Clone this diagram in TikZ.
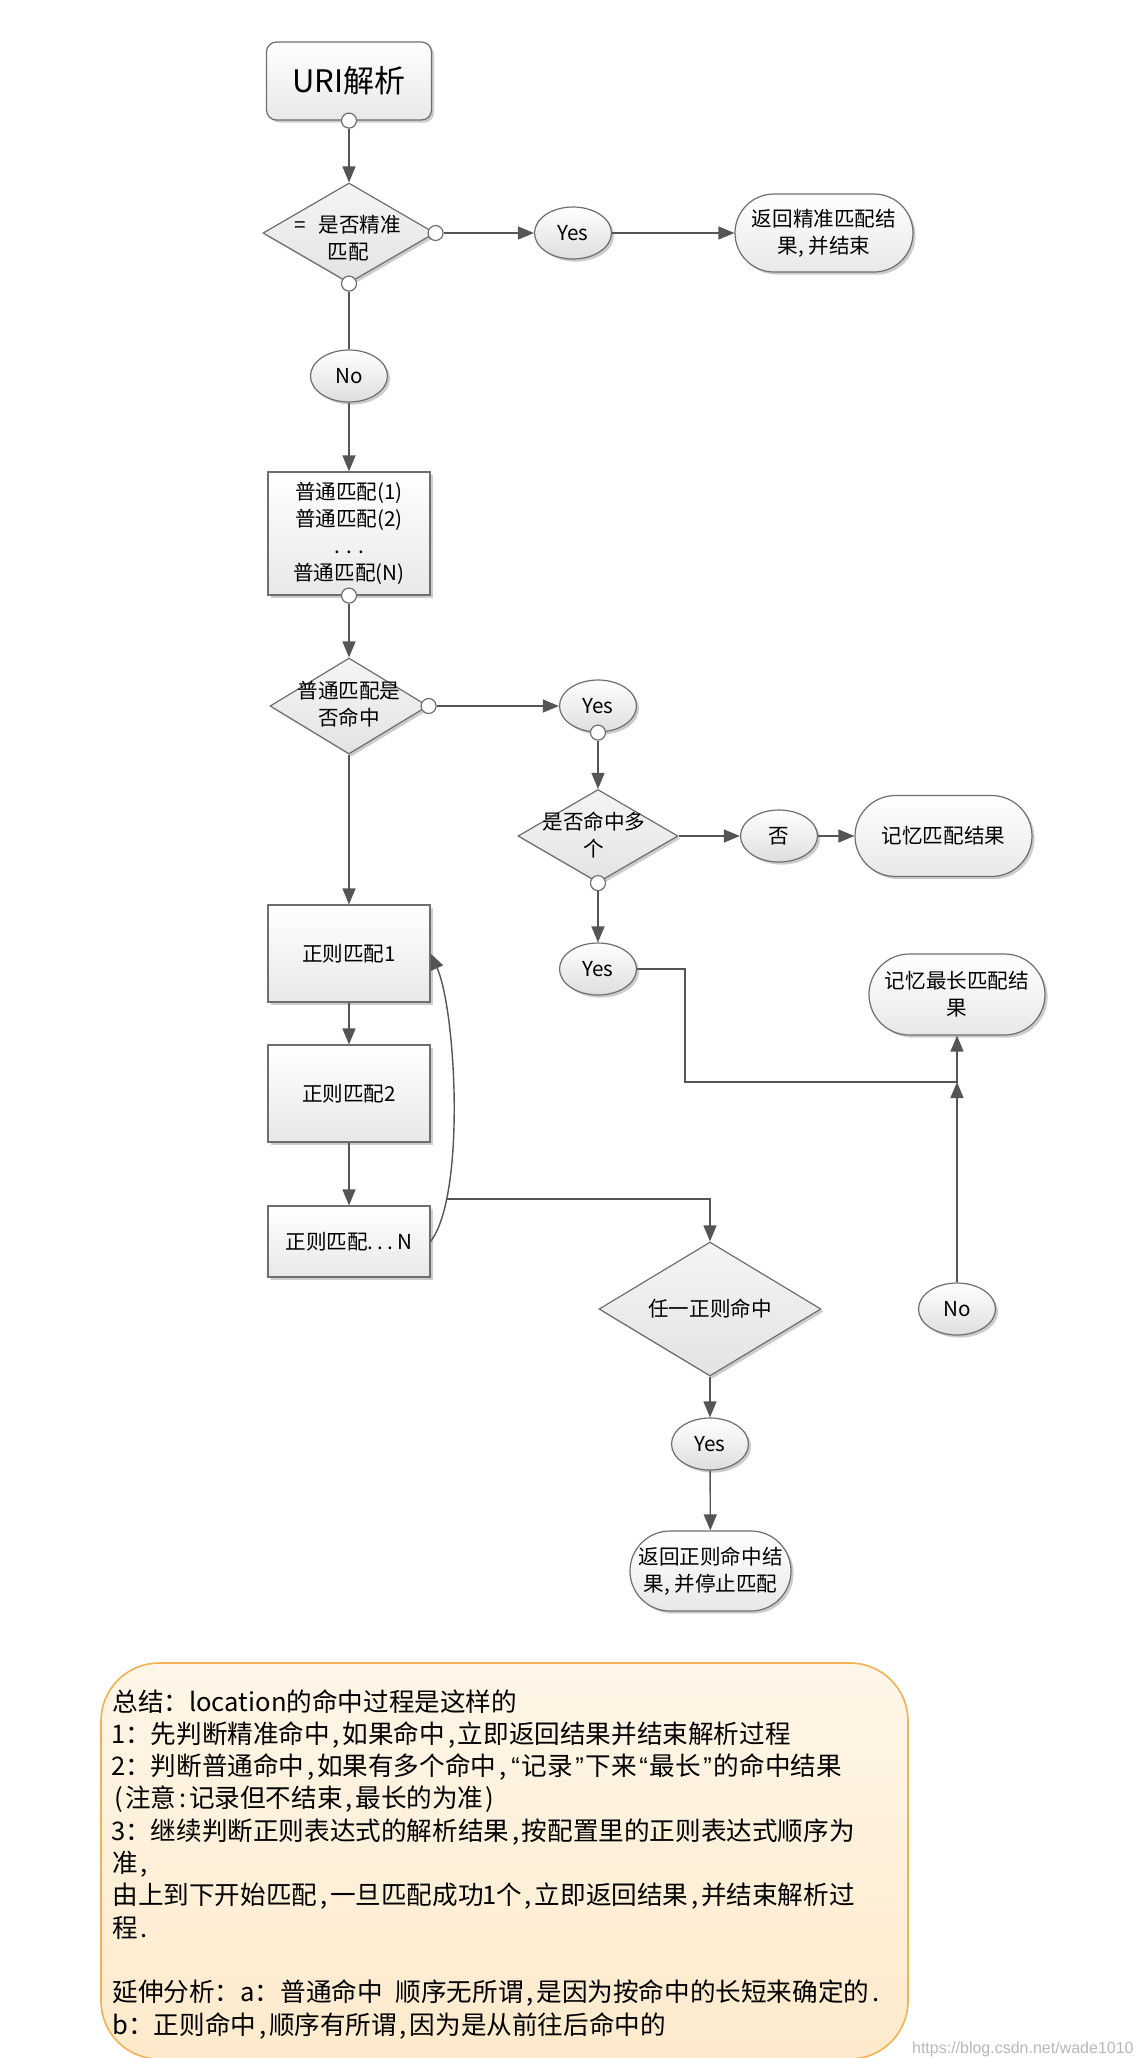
\documentclass[tikz,border=0pt]{standalone}
\usepackage{fontspec}
\setmainfont{Noto Sans CJK SC}
\newfontfamily\wmfont{Liberation Sans}
\usetikzlibrary{shapes.geometric,shadows,arrows.meta}
\newcommand{\hw}[1]{\makebox[0.5em][c]{#1}}
\newcommand{\hq}[1]{\makebox[0.5em][c]{\wmfont #1}}
\definecolor{lnc}{HTML}{555555}
\definecolor{bdc}{HTML}{6E6E6E}
\definecolor{sumtop}{HTML}{FFF6E8}
\definecolor{sumbot}{HTML}{FDEACB}
\definecolor{sumbd}{HTML}{F2B152}
\begin{document}
\begin{tikzpicture}[x=0.5pt,y=-0.5pt,
 every node/.style={align=center,font=\fontsize{10.3pt}{13.5pt}\selectfont},
 shad/.style={drop shadow={shadow xshift=1.3pt,shadow yshift=-1.3pt,fill=black,opacity=0.2}},
 procbox/.style={shad,rectangle,draw=bdc,line width=0.6pt,top color=white,bottom color=black!9,inner sep=0pt},
 termbox/.style={procbox,rounded corners=#1},
 decis/.style={shad,diamond,draw=bdc,line width=0.6pt,top color=black!4,bottom color=black!11,inner sep=0pt},
 oval/.style={shad,ellipse,draw=bdc,line width=0.6pt,top color=white,bottom color=black!13,inner sep=0pt,minimum width=38.5pt,minimum height=26pt},
 port/.style={circle,draw=bdc,line width=0.6pt,fill=white,minimum size=7.5pt,inner sep=0pt},
 lbl/.style={inner sep=0pt},
 conn/.style={draw=lnc,line width=0.7pt},
 arr/.style={conn,-{Triangle[length=8pt,width=6.5pt]}},
 sumbox/.style={draw=sumbd,line width=0.8pt,top color=sumtop,bottom color=sumbot,rounded corners=29pt,inner sep=0pt},
 sumtext/.style={anchor=base west,inner sep=0pt,font=\fontsize{12.8pt}{16pt}\selectfont},
]
\useasboundingbox (0,0) rectangle (1138,2058);
\fill[white] (0,0) rectangle (1138,2058);

% ---- top part
\node[termbox=5pt, minimum width=82.5pt, minimum height=39pt, font=\fontsize{15.5pt}{18pt}\selectfont] (uri) at (349,81) {URI解析};
\node[port] (p1) at (uri.south) {};
\node[decis, minimum width=86pt, minimum height=50pt] (d1) at (349,233) {};
\node[lbl] (d1t) at (348,238) {=\hspace{0.6em}是否精准\\匹配};
\node[port] (p2) at (d1.east) {};
\node[port] (p3) at (d1.south) {};
\node[oval] (y1) at (573,233) {Yes};
\node[termbox=19.5pt, minimum width=89pt, minimum height=39pt] (r1) at (824,233) {返回精准匹配结\\果, 并结束};
\node[oval] (n1) at (349,376) {No};
\node[procbox, minimum width=81pt, minimum height=61.5pt] (b1) at (349,533.5) {普通匹配(1)\\普通匹配(2)\\.\hspace{0.3em}.\hspace{0.3em}.\\普通匹配(N)};
\node[port] (p4) at (b1.south) {};

% ---- middle part
\node[decis, minimum width=79pt, minimum height=48pt] (d2) at (349,706) {};
\node[lbl] (d2t) at (349,704) {普通匹配是\\否命中};
\node[port] (p5) at (d2.east) {};
\node[oval] (y2) at (598,706) {Yes};
\node[port] (p6) at (y2.south) {};
\node[decis, minimum width=80pt, minimum height=46.5pt] (d3) at (598,836) {};
\node[lbl] (d3t) at (594,835) {是否命中多\\个};
\node[port] (p7) at (d3.south) {};
\node[oval] (no3) at (779,836) {否};
\node[termbox=20.25pt, minimum width=88.5pt, minimum height=40.5pt] (m1) at (943.5,836) {记忆匹配结果};
\node[oval] (y3) at (598,969) {Yes};
\node[termbox=20.25pt, minimum width=88pt, minimum height=40.5pt] (m2) at (957,994.5) {记忆最长匹配结\\果};
\coordinate (j) at (957,1082);
\node[oval] (n2) at (957,1309) {No};

\node[procbox, minimum width=81pt, minimum height=48.5pt] (rx1) at (349,953.5) {正则匹配1};
\node[procbox, minimum width=81pt, minimum height=48.5pt] (rx2) at (349,1093.5) {正则匹配2};
\node[procbox, minimum width=81pt, minimum height=35.5pt] (rxn) at (349,1241.5) {正则匹配.\hspace{0.2em}.\hspace{0.2em}.\hspace{0.2em}N};

\node[decis, minimum width=111pt, minimum height=67pt] (d4) at (710,1309) {};
\node[lbl] (d4t) at (710,1309) {任一正则命中};
\node[oval] (y4) at (710,1444) {Yes};
\node[termbox=20pt, minimum width=80.5pt, minimum height=40pt] (r4) at (710.5,1571) {返回正则命中结\\果, 并停止匹配};

% ---- connectors
\draw[arr] (p1) -- (d1.north);
\draw[arr] (p2) -- (y1);
\draw[arr] (y1) -- (r1);
\draw[conn] (p3) -- (n1);
\draw[arr] (n1) -- (b1);
\draw[arr] (p4) -- (d2.north);
\draw[arr] (p5) -- (y2);
\draw[arr] (p6) -- (d3.north);
\draw[arr] (d3.east) -- (no3);
\draw[arr] (no3) -- (m1);
\draw[arr] (p7) -- (y3);
\draw[arr] (y3.east) -- ++(48,0) |- (j) -- (m2.south);
\draw[arr] (n2) -- (j);
\draw[arr] (d2.south) -- (rx1);
\draw[arr] (rx1) -- (rx2);
\draw[arr] (rx2) -- (rxn);
\draw[arr] (rxn.east) .. controls (466,1195) and (456,1010) .. (rx1.east) coordinate[pos=0.2] (cj);
\draw[arr] (cj) -| (d4.north);
\draw[arr] (d4.south) -- (y4);
\draw[arr] (y4) -- (r4);

% ---- summary
\node[sumbox, minimum width=403.5pt, minimum height=198pt] (sum) at (504.5,1861) {};
\node[sumtext] (s1) at (112,1711) {总结：location的命中过程是这样的};
\node[sumtext] (s2) at (112,1743.3) {\hw{1}：先判断精准命中\hw{,}如果命中\hw{,}立即返回结果并结束解析过程};
\node[sumtext] (s3) at (112,1775.6) {\hw{2}：判断普通命中\hw{,}如果有多个命中\hw{,}\hq{“}记录\hq{”}下来\hq{“}最长\hq{”}的命中结果};
\node[sumtext] (s4) at (112,1807.9) {\hw{(}注意\hw{:}记录但不结束\hw{,}最长的为准\hw{)}};
\node[sumtext] (s5) at (112,1840.2) {\hw{3}：继续判断正则表达式的解析结果\hw{,}按配置里的正则表达式顺序为};
\node[sumtext] (s6) at (112,1872.5) {准\hw{,}};
\node[sumtext] (s7) at (112,1904.8) {由上到下开始匹配\hw{,}一旦匹配成功\hw{1}个\hw{,}立即返回结果\hw{,}并结束解析过};
\node[sumtext] (s8) at (112,1937.1) {程\hw{.}};
\node[sumtext] (s9) at (112,2001.7) {延伸分析：a：普通命中\hspace{0.5em}顺序无所谓\hw{,}是因为按命中的长短来确定的\hw{.}};
\node[sumtext] (s10) at (112,2034) {b：正则命中\hw{,}顺序有所谓\hw{,}因为是从前往后命中的};

\node[anchor=east, inner sep=0pt, font=\wmfont\fontsize{8pt}{9pt}\selectfont, text=black!28] (wm) at (1134,2049) {https://blog.csdn.net/wade1010};
\end{tikzpicture}
\end{document}
